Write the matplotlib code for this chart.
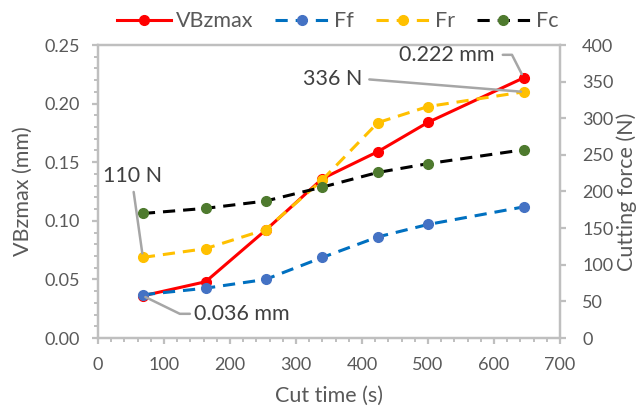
import matplotlib
matplotlib.use("Agg")
import matplotlib.pyplot as plt
from matplotlib.ticker import MultipleLocator

plt.rcParams['font.family'] = ['Lato', 'DejaVu Sans']

cut_time = [68, 163, 254, 340, 424, 500, 645]
vbzmax = [0.036, 0.048, 0.092, 0.136, 0.159, 0.184, 0.222]
ff = [59, 68, 80, 110, 138, 155, 179]
fr = [110, 122, 148, 216, 294, 316, 336]
fc = [170, 177, 187, 206, 226, 238, 257]

x_ticks = [0, 100, 200, 300, 400, 500, 600, 700]
y_left_ticks = [0.00, 0.05, 0.10, 0.15, 0.20, 0.25]
y_right_ticks = [0, 50, 100, 150, 200, 250, 300, 350, 400]

spine_c = '#BFBFBF'
text_c = '#595959'

fig = plt.figure(figsize=(6.43, 4.11), dpi=100)
ax = fig.add_axes([98/643, 1-338/411, (560-98)/643, (338-45)/411])
ax2 = ax.twinx()

dash = (0, (4, 2.6))
l1, = ax.plot(cut_time, vbzmax, color='#FF0000', lw=2.2, marker='o', ms=7, label='VBzmax', zorder=3)
l2, = ax2.plot(cut_time, ff, color='#0070C0', lw=2.2, ls=dash, marker='o', ms=7,
               mfc='#4472C4', mec='#4472C4', label='Ff')
l3, = ax2.plot(cut_time, fr, color='#FFC000', lw=2.2, ls=dash, marker='o', ms=7,
               mfc='#FFC000', mec='#FFC000', label='Fr')
l4, = ax2.plot(cut_time, fc, color='#000000', lw=2.2, ls=dash, marker='o', ms=7,
               mfc='#4E7A2E', mec='#4E7A2E', label='Fc')

ax.set_xlim(0, 700)
ax.set_ylim(0, 0.25)
ax2.set_ylim(0, 400)
ax.set_xticks(x_ticks)
ax.set_yticks(y_left_ticks)
ax.set_yticklabels([f'{v:.2f}' for v in y_left_ticks])
ax2.set_yticks(y_right_ticks)
ax.xaxis.set_minor_locator(MultipleLocator(20))
ax.yaxis.set_minor_locator(MultipleLocator(0.01))

for a in (ax, ax2):
    for s in a.spines.values():
        s.set_color(spine_c)
        s.set_linewidth(1.6)
    a.tick_params(which='major', length=4, width=1.6, color=spine_c, labelcolor=text_c, labelsize=13)
    a.tick_params(which='minor', length=3, width=1.4, color=spine_c)
ax.tick_params(axis='x', which='both', top=False)
ax.tick_params(axis='x', which='major', pad=10)
ax.tick_params(axis='y', which='major', pad=9)
ax2.tick_params(axis='y', which='major', pad=12)

ax.set_xlabel('Cut time (s)', fontsize=15.5, color=text_c, labelpad=9)
ax.set_ylabel('VBzmax (mm)', fontsize=15.5, color=text_c, labelpad=8)
ax2.set_ylabel('Cutting force (N)', fontsize=15.5, color=text_c, labelpad=2)

fig.legend(handles=[l1, l2, l3, l4], loc='center', bbox_to_anchor=(0.525, 0.948), ncol=4,
           frameon=False, fontsize=15.5, handlelength=2.5, columnspacing=1.0, handletextpad=0.25,
           labelcolor=text_c)

ann_c = '#404040'
lead_c = '#A6A6A6'
ann_fs = 15.5
ax2.annotate(f'{fr[0]} N', xy=(cut_time[0], fr[0]), xytext=(-10, 81), textcoords='offset pixels',
             ha='center', va='center', fontsize=ann_fs, color=ann_c,
             arrowprops=dict(arrowstyle='-', color=lead_c, lw=1.8, shrinkA=2, shrinkB=3,
                             relpos=(0.5, 0)))
ax2.annotate(f'{vbzmax[0]:.3f} mm', xy=(cut_time[0], vbzmax[0] * 1600), xytext=(99, -18),
             textcoords='offset pixels', ha='center', va='center', fontsize=ann_fs, color=ann_c,
             arrowprops=dict(arrowstyle='-', color=lead_c, lw=1.8, shrinkA=1, shrinkB=2,
                             relpos=(0, 0.5), connectionstyle='angle,angleA=0,angleB=-26,rad=0'))
ax2.annotate(f'{fr[-1]} N', xy=(cut_time[-1], fr[-1]), xytext=(-191, 13), textcoords='offset pixels',
             ha='center', va='center', fontsize=ann_fs, color=ann_c,
             arrowprops=dict(arrowstyle='-', color=lead_c, lw=1.8, shrinkA=3, shrinkB=2,
                             relpos=(1, 0.5)))
ax2.annotate(f'{vbzmax[-1]:.3f} mm', xy=(cut_time[-1], vbzmax[-1] * 1600), xytext=(-77, 23),
             textcoords='offset pixels', ha='center', va='center', fontsize=ann_fs, color=ann_c,
             arrowprops=dict(arrowstyle='-', color=lead_c, lw=1.8, shrinkA=4, shrinkB=3,
                             relpos=(1, 0.5), connectionstyle='angle,angleA=0,angleB=-63,rad=0'))

fig.savefig('out.png', dpi=100)
